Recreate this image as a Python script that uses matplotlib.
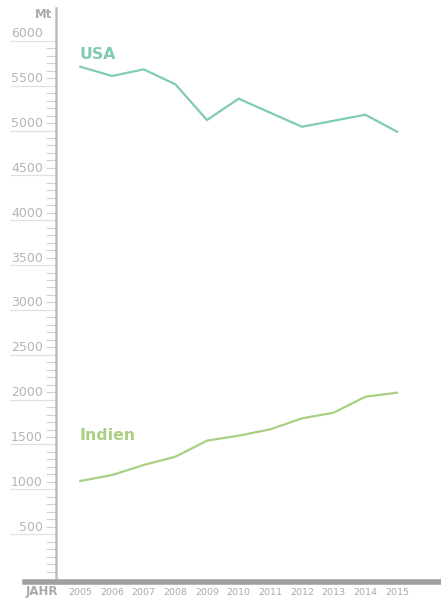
import matplotlib.pyplot as plt
import numpy as np
from matplotlib.lines import Line2D
from matplotlib.ticker import FixedLocator

# data (Mt CO2)
years = [2005, 2006, 2007, 2008, 2009, 2010, 2011, 2012, 2013, 2014, 2015]
usa = [5711, 5608, 5682, 5515, 5117, 5355, 5198, 5042, 5109, 5176, 4987]
indien = [1093, 1159, 1271, 1363, 1542, 1598, 1669, 1791, 1854, 2032, 2077]
y_labels = [500, 1000, 1500, 2000, 2500, 3000, 3500, 4000, 4500, 5000, 5500, 6000]

c_usa = '#80cbb6'
c_ind = '#a8d083'
c_grey = '#a9a9a9'

W, H = 441, 601
fig = plt.figure(figsize=(W / 100, H / 100), dpi=100)
ax = fig.add_axes([56 / W, 1 - 579 / H, (W - 56) / W, (579 - 8) / H])

ax.plot(years, usa, color=c_usa, lw=1.6, solid_joinstyle='miter')
ax.plot(years, indien, color=c_ind, lw=1.6, solid_joinstyle='miter')

ax.text(2004.97, 5850, 'USA', color=c_usa, fontsize=11.3, fontweight='bold', va='center', ha='left')
ax.text(2004.97, 1595, 'Indien', color=c_ind, fontsize=11.3, fontweight='bold', va='center', ha='left')

ax.set_xlim(2004.23, 2016.39)
ax.set_ylim(0, 6366)

for s in ['top', 'right', 'bottom']:
    ax.spines[s].set_visible(False)
ax.spines['left'].set_color('#bdbdbd')
ax.spines['left'].set_linewidth(1.8)

# y ticks: long light major ticks, short minor ticks, labels sitting above the tick
ax.set_yticks(y_labels)
ax.set_yticklabels([])
minor = [v for v in np.arange(0, 6001, 500 / 6) if round(v) % 500 != 0]
ax.yaxis.set_minor_locator(FixedLocator(minor))
ax.tick_params(axis='y', which='major', length=33, width=0.9, color='#e0e0e0')
ax.tick_params(axis='y', which='minor', length=7.5, width=0.8, color='#d2d2d2')
tr = ax.get_yaxis_transform()
for v in y_labels:
    ax.text(-13 / (W - 56), v + 5, str(v), transform=tr, ha='right', va='bottom',
            fontsize=9, color='#b5b5b5')

# x ticks
ax.set_xticks(years)
ax.set_xticklabels([str(y) for y in years], fontsize=6.8, color=c_grey)
ax.tick_params(axis='x', length=0, pad=6.5)

# bottom bar extending to the left
fig.add_artist(Line2D([25 / W, 1], [1 - 581.5 / H, 1 - 581.5 / H], color='#a0a0a0', lw=4))
fig.text(42 / W, 1 - 592 / H, 'JAHR', fontsize=8.5, fontweight='bold', color=c_grey, ha='center', va='center')
fig.text(52 / W, 1 - 15 / H, 'Mt', fontsize=8.5, fontweight='bold', color=c_grey, ha='right', va='center')

fig.savefig('out.png', dpi=100)
